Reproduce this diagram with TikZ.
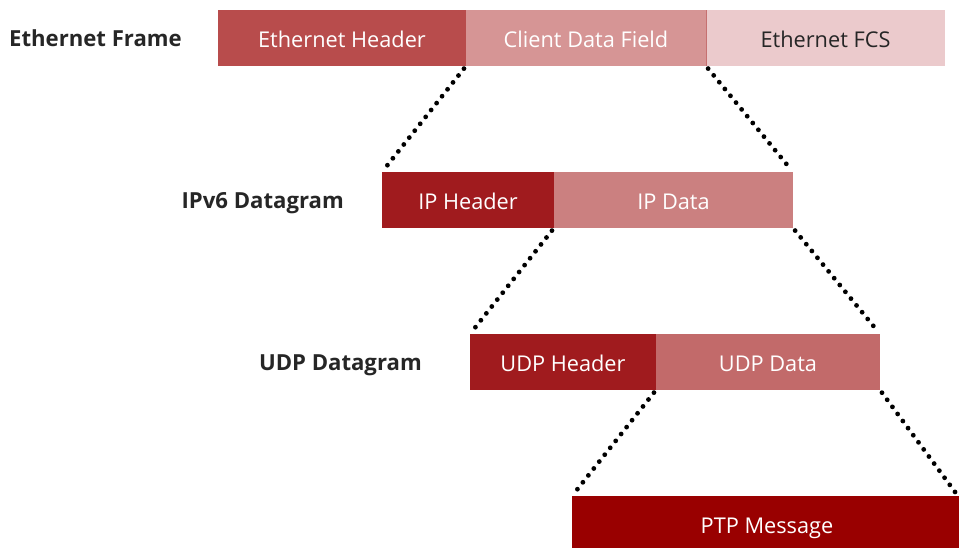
\documentclass[tikz,border=0pt]{standalone}
\usepackage{fontspec}
\setmainfont{Open Sans}
\begin{document}
\begin{tikzpicture}[x=0.75pt,y=-0.75pt,
  field/.style={draw=none,inner sep=0pt,outer sep=0pt,anchor=north west,
    text height=14pt,text depth=0.5pt,
    font=\fontsize{16.3}{19}\selectfont,text=white},
  rowlabel/.style={anchor=base east,inner sep=0pt,font=\fontsize{16.6}{19}\selectfont\bfseries,text=black!85},
  dots/.style={line width=3.6pt,line cap=round,dash pattern=on 0pt off 6.6pt,shorten >=2.5pt,shorten <=2.5pt}]
\definecolor{ehdr}{HTML}{B84C4C}
\definecolor{cdata}{HTML}{D69595}
\definecolor{fcs}{HTML}{EBCACC}
\definecolor{hdr}{HTML}{A01B1E}
\definecolor{ipdata}{HTML}{CB8080}
\definecolor{udpdata}{HTML}{C26A6A}
\definecolor{ptp}{HTML}{990000}
\useasboundingbox (0,0) rectangle (959,547);
% Ethernet frame
\node[field,fill=ehdr,minimum width=248*0.75pt,minimum height=56*0.75pt] (eh) at (218,10) {Ethernet Header};
\node[field,fill=cdata,minimum width=240*0.75pt,minimum height=56*0.75pt] (cd) at (466,10) {Client Data Field};
\node[field,fill=fcs,minimum width=239*0.75pt,minimum height=56*0.75pt,text=black!85] (fcs) at (706,10) {Ethernet FCS};
\draw[ehdr!80,line width=0.6pt] (cd.north east) -- (cd.south east);
\node[rowlabel] (l1) at (182,46) {Ethernet Frame};
% IPv6 datagram
\node[field,fill=hdr,minimum width=172*0.75pt,minimum height=56*0.75pt] (iph) at (382,172) {IP Header};
\node[field,fill=ipdata,minimum width=239*0.75pt,minimum height=56*0.75pt] (ipd) at (554,172) {IP Data};
\node[rowlabel] (l2) at (344,208) {IPv6 Datagram};
% UDP datagram
\node[field,fill=hdr,minimum width=186*0.75pt,minimum height=56*0.75pt] (udph) at (470,334) {UDP Header};
\node[field,fill=udpdata,minimum width=224*0.75pt,minimum height=56*0.75pt] (udpd) at (656,334) {UDP Data};
\node[rowlabel] (l3) at (422,370) {UDP Datagram};
% PTP message
\node[field,fill=ptp,minimum width=390*0.75pt,minimum height=56*0.75pt] (ptpm) at (572,496) {PTP Message};
% Encapsulation lines
\draw[dots] (cd.south west) -- (iph.north west);
\draw[dots] (cd.south east) -- (ipd.north east);
\draw[dots] (ipd.south west) -- (udph.north west);
\draw[dots] (ipd.south east) -- (udpd.north east);
\draw[dots] (udpd.south west) -- (ptpm.north west);
\draw[dots] (udpd.south east) -- ([xshift=-4*0.75pt]ptpm.north east);
\end{tikzpicture}
\end{document}
